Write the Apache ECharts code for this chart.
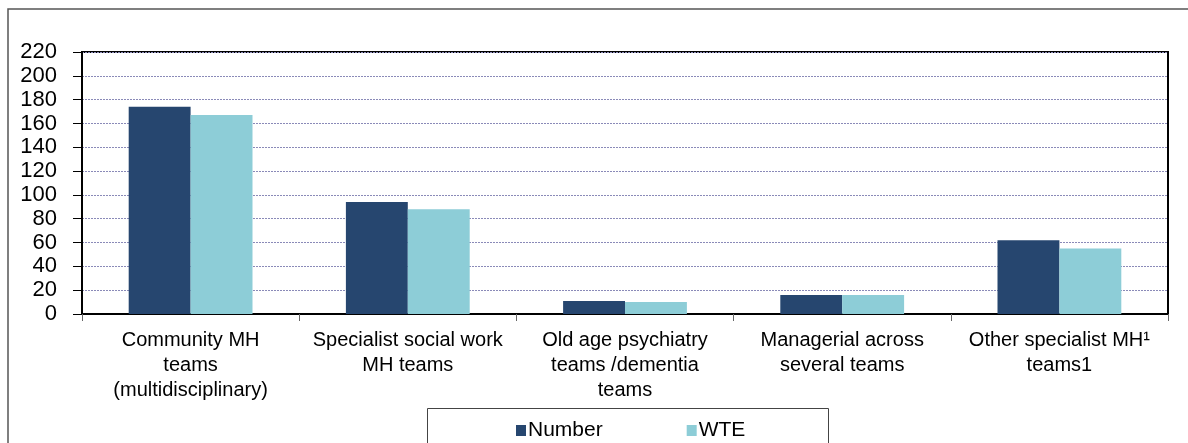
<!DOCTYPE html>
<html>
<head>
<meta charset="utf-8">
<script src="https://cdn.jsdelivr.net/npm/echarts@6/dist/echarts.min.js"></script>
<style>
  html, body { margin: 0; padding: 0; background: #fff; }
  #chart { width: 1188px; height: 443px; }
</style>
</head>
<body>
<div id="chart"></div>
<script>
// categories along the x axis
const categories = [
  'Community MH\nteams\n(multidisciplinary)',
  'Specialist social work\nMH teams',
  'Old age psychiatry\nteams /dementia\nteams',
  'Managerial across\nseveral teams',
  'Other specialist MH\u00b9\nteams1'
];
// values
const numberValues = [174, 94, 11, 16, 62];
const wteValues = [167, 88, 10, 16, 55];
const seriesNames = ['Number', 'WTE'];

const myChart = echarts.init(document.getElementById('chart'));

myChart.setOption({
  animation: false,
  textStyle: { fontFamily: 'Arial, "Liberation Sans", sans-serif' },
  grid: {
    left: 82,
    right: 20,
    top: 52,
    bottom: 129,
    show: true,
    borderColor: '#000',
    borderWidth: 2
  },
  // outer frame (top + left only) and the legend box
  graphic: [
    {
      type: 'polyline',
      shape: { points: [[8, 443], [8, 9], [1188, 9]] },
      style: { stroke: '#555', lineWidth: 1.5, fill: null }
    },
    {
      type: 'rect',
      shape: { x: 427.5, y: 408.5, width: 401, height: 60 },
      style: { stroke: '#444', lineWidth: 1, fill: '#fff' },
      z: 0
    }
  ],
  legend: {
    left: 511,
    top: 415,
    itemWidth: 10,
    itemHeight: 11,
    itemGap: 84,
    icon: 'rect',
    textStyle: { fontSize: 21, color: '#000', padding: [0, 0, 0, -3] },
    z: 5
  },
  xAxis: {
    type: 'category',
    data: categories,
    axisLine: { lineStyle: { color: '#000', width: 2 } },
    axisTick: { show: true, length: 7, lineStyle: { color: '#666' } },
    axisLabel: {
      interval: 0,
      fontSize: 20,
      lineHeight: 25,
      color: '#000',
      margin: 14
    }
  },
  yAxis: {
    type: 'value',
    min: 0,
    max: 220,
    interval: 20,
    axisLine: { show: true, lineStyle: { color: '#000', width: 2 } },
    axisTick: { show: true, length: 9, lineStyle: { color: '#000' } },
    axisLabel: { fontSize: 22, color: '#000', margin: 25 },
    splitLine: {
      show: true,
      lineStyle: { color: '#8a8ab8', width: 1, type: [2, 1] }
    }
  },
  series: [
    {
      name: seriesNames[0],
      type: 'bar',
      data: numberValues,
      barGap: '0%',
      barCategoryGap: '43%',
      itemStyle: { color: '#26466F' }
    },
    {
      name: seriesNames[1],
      type: 'bar',
      data: wteValues,
      itemStyle: { color: '#8DCDD7' }
    }
  ]
});
</script>
</body>
</html>
